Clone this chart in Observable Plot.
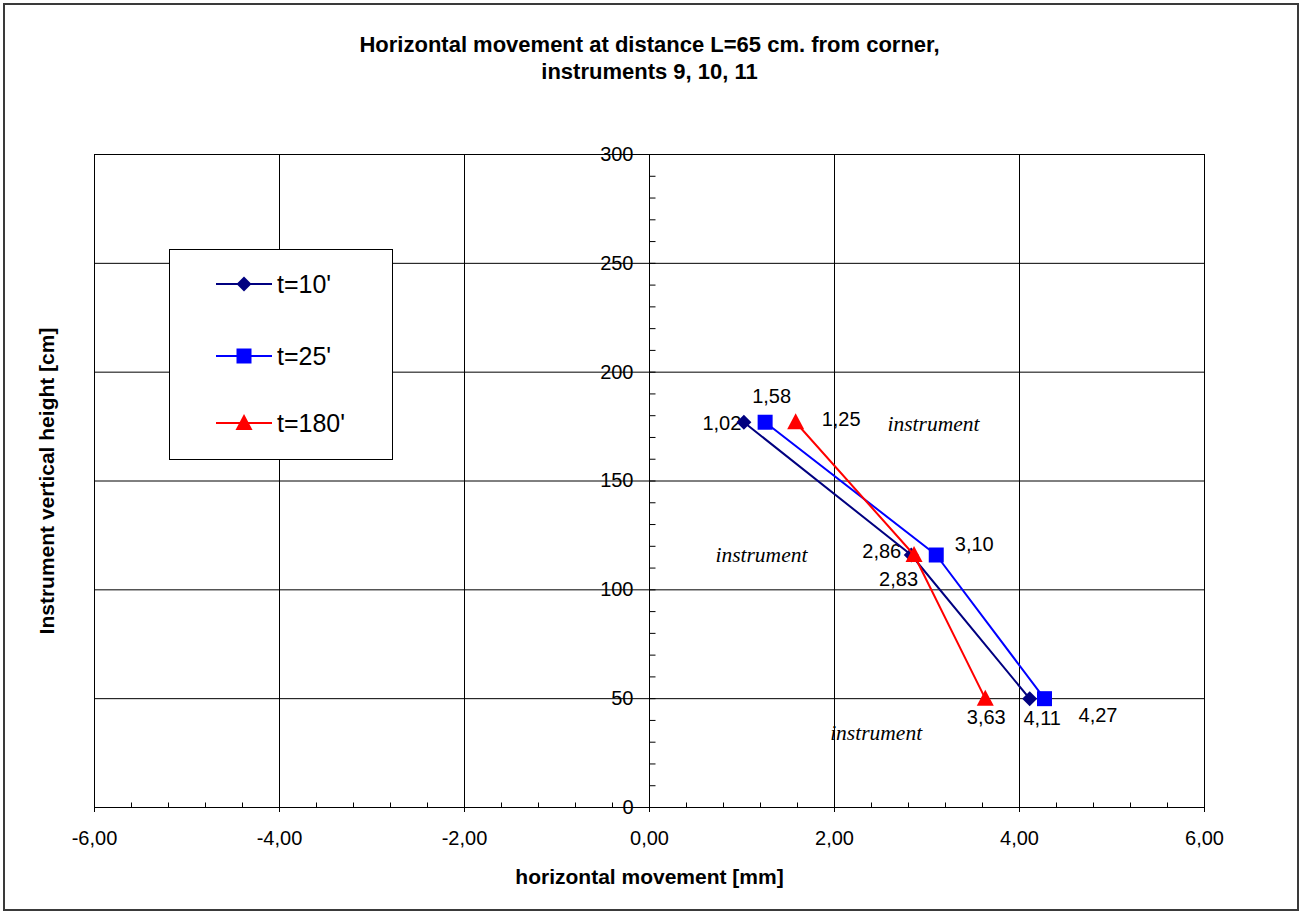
<!DOCTYPE html>
<html>
<head>
<meta charset="utf-8">
<script src="https://cdn.jsdelivr.net/npm/d3@7"></script>
<script src="https://cdn.jsdelivr.net/npm/@observablehq/plot@0.6"></script>
<style>
  html, body { margin: 0; padding: 0; background: #fff; }
  #wrap { position: relative; width: 1300px; height: 915px; overflow: hidden; background: #fff; }
  #outer { position: absolute; left: 3px; top: 3px; width: 1296px; height: 908px; border: 2px solid #3a3a3a; box-sizing: border-box; pointer-events: none; }
  #legend { position: absolute; left: 169px; top: 249px; width: 224px; height: 211px; border: 1px solid #000; background: #fff; box-sizing: border-box; }
  #legend svg { display: block; }
</style>
</head>
<body>
<div id="wrap">
  <div id="chart"></div>
  <div id="legend"></div>
  <div id="outer"></div>
</div>
<script>
// ---------------- data ----------------
const xTicks = [-6, -4, -2, 0, 2, 4, 6];
const yTicks = [0, 50, 100, 150, 200, 250, 300];
const seriesNames = ["t=10'", "t=25'", "t=180'"];
const heights = [177, 116, 50];
const t10 = [1.02, 2.83, 4.11];
const t25 = [1.25, 3.10, 4.27];
const t180 = [1.58, 2.86, 3.63];
const t10Labels = ["1,02", "2,86", "4,11"];
const t25Labels = ["1,58", "3,10", "4,27"];
const t180Labels = ["1,25", "2,83", "3,63"];
const noteText = ["instrument", "instrument", "instrument"];
const noteX = [3.07, 1.21, 2.45];
const noteY = [176, 116, 34];
const titleText = "Horizontal movement at distance L=65 cm. from corner,\ninstruments 9, 10, 11";
const xLabel = "horizontal movement [mm]";
const yLabel = "Instrument vertical height [cm]";

// ---------------- styles ----------------
const colors = ["#000080", "#0000FF", "#FF0000"];
const sans = "'Liberation Sans', Arial, Helvetica, sans-serif";
const serif = "'Liberation Serif', 'Times New Roman', serif";

const diamond = {draw(c) { c.moveTo(0, -7.5); c.lineTo(7.5, 0); c.lineTo(0, 7.5); c.lineTo(-7.5, 0); c.closePath(); }};
const square = {draw(c) { c.moveTo(-7.5, -7.5); c.lineTo(7.5, -7.5); c.lineTo(7.5, 7.5); c.lineTo(-7.5, 7.5); c.closePath(); }};
const triangle = {draw(c) { c.moveTo(0, -9); c.lineTo(8.5, 7); c.lineTo(-8.5, 7); c.closePath(); }};
const symbols = [diamond, square, triangle];
const hTick = {draw(c) { c.moveTo(0, 0); c.lineTo(6, 0); }};
const vTick = {draw(c) { c.moveTo(0, 0); c.lineTo(0, -5); }};

const seriesX = [t10, t25, t180];
const seriesLabels = [t10Labels, t25Labels, t180Labels];
const labelOffsets = [
  [[-22, 1], [-29.5, -3], [12.5, 20]],
  [[6.5, -26], [38, -10], [53.5, 17]],
  [[45.5, -3], [-15.5, 24.5], [1, 19]]
];

const rows = seriesNames.map((name, s) => heights.map((h, i) => ({series: name, x: seriesX[s][i], y: h, label: seriesLabels[s][i]})));
const notes = noteText.map((t, i) => ({text: t, x: noteX[i], y: noteY[i]}));

const minorX = d3.range(-15, 16).map(k => k * 0.4);
const minorY = d3.range(1, 30).map(k => k * 10);
const fmt = d => d.toFixed(2).replace(".", ",");

const marks = [
  Plot.ruleX([-4, -2, 2, 4], {stroke: "black", strokeWidth: 1}),
  Plot.ruleY([50, 100, 150, 200, 250], {stroke: "black", strokeWidth: 1}),
  Plot.ruleX([0], {stroke: "black", strokeWidth: 1}),
  Plot.frame({stroke: "black", strokeWidth: 1}),
  Plot.dot(minorY, {x: () => 0, y: d => d, symbol: hTick, stroke: "black", fill: "none", strokeWidth: 1}),
  Plot.dot(minorX, {x: d => d, y: () => 0, symbol: vTick, stroke: "black", fill: "none", strokeWidth: 1}),
  Plot.axisX(xTicks, {anchor: "bottom", tickSize: 5, tickPadding: 18, tickFormat: fmt, fontSize: 20, label: null, stroke: "black", fill: "black"}),
  Plot.text(yTicks, {x: () => 0, y: d => d, text: d => String(d), textAnchor: "end", dx: -16, fontSize: 20, fill: "black"}),
  Plot.text(notes, {x: "x", y: "y", text: "text", fontSize: 21.5, fontFamily: serif, fontStyle: "italic", fill: "black"}),
  Plot.text([titleText], {frameAnchor: "top", lineAnchor: "middle", textAnchor: "middle", dy: -97.5, lineHeight: 1.227, fontSize: 22, fontWeight: "bold", fill: "black"}),
  Plot.text([xLabel], {frameAnchor: "bottom", lineAnchor: "middle", textAnchor: "middle", dy: 70, fontSize: 21, fontWeight: "bold", fill: "black"}),
  Plot.text([yLabel], {frameAnchor: "left", lineAnchor: "middle", textAnchor: "middle", dx: -47, rotate: -90, fontSize: 21, fontWeight: "bold", fill: "black"})
];

rows.forEach((data, s) => {
  data.forEach((d, i) => {
    const [dx, dy] = labelOffsets[s][i];
    marks.push(Plot.text([d], {x: "x", y: "y", text: "label", dx, dy, fontSize: 20, fill: "black"}));
  });
});
rows.forEach((data, s) => {
  marks.push(Plot.line(data, {x: "x", y: "y", stroke: colors[s], strokeWidth: 2}));
  marks.push(Plot.dot(data, {x: "x", y: "y", symbol: symbols[s], fill: colors[s], stroke: "none"}));
});

const chart = Plot.plot({
  width: 1300,
  height: 915,
  marginLeft: 94,
  marginRight: 96,
  marginTop: 154,
  marginBottom: 108,
  x: {domain: [-6, 6]},
  y: {domain: [0, 300], axis: null},
  style: {fontFamily: sans, fontSize: "20px", color: "black", background: "white"},
  marks
});
document.getElementById("chart").appendChild(chart);

// ---------------- legend ----------------
const leg = d3.select("#legend").append("svg").attr("width", 222).attr("height", 209)
  .style("font-family", sans);
const rowY = [34, 106, 173];
seriesNames.forEach((name, s) => {
  const g = leg.append("g").attr("transform", `translate(0,${rowY[s]})`);
  g.append("line").attr("x1", 46).attr("x2", 102).attr("y1", 0).attr("y2", 0)
    .attr("stroke", colors[s]).attr("stroke-width", 2);
  g.append("path").attr("transform", "translate(74,0)")
    .attr("d", d3.symbol(symbols[s])()).attr("fill", colors[s]);
  g.append("text").attr("x", 107).attr("y", 0).attr("dy", "0.36em")
    .attr("font-size", 25).attr("fill", "black").text(name);
});
</script>
</body>
</html>
